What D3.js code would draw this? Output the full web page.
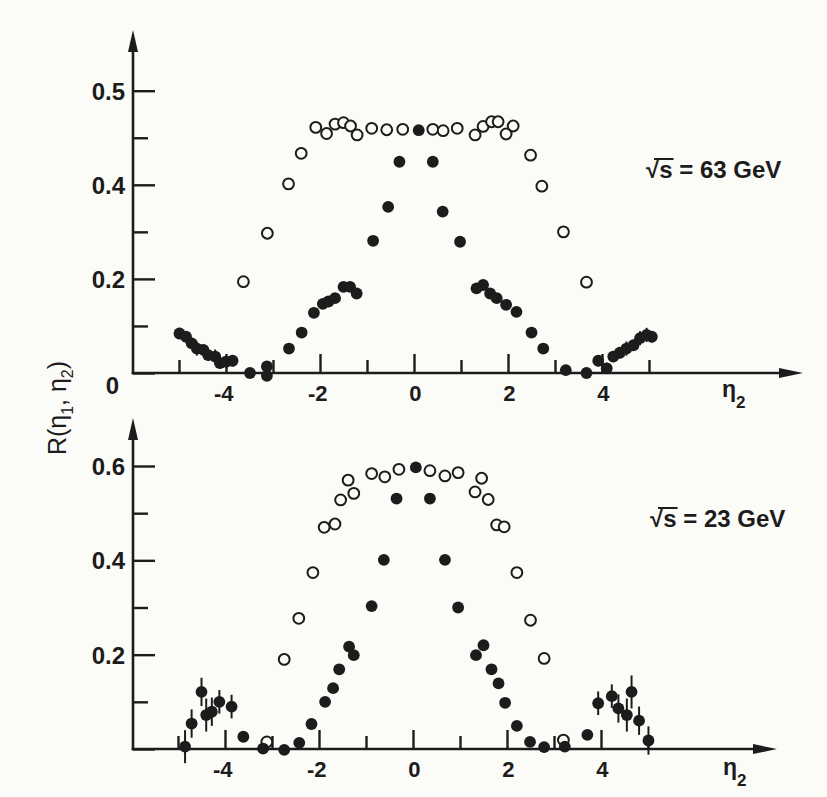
<!DOCTYPE html>
<html><head><meta charset="utf-8">
<script src="https://cdn.jsdelivr.net/npm/d3@7"></script>
<style>
html,body{margin:0;padding:0;background:#fbfbf8;}
svg{display:block;}
text{font-family:"Liberation Sans",Arial,sans-serif;font-weight:bold;fill:#1c1c1c;}
</style></head>
<body>
<script>
// ---------- DATA ----------
// sqrt(s) = 63 GeV panel
const eta63Open = [-3.63,-3.12,-2.67,-2.40,-2.09,-1.86,-1.68,-1.50,-1.35,-1.21,-0.90,-0.58,-0.24,0.40,0.62,0.92,1.30,1.47,1.65,1.79,1.96,2.11,2.48,2.72,3.18,3.67];
const r63Open   = [0.194,0.297,0.402,0.467,0.522,0.509,0.529,0.532,0.525,0.506,0.520,0.517,0.518,0.518,0.515,0.520,0.506,0.524,0.534,0.534,0.508,0.525,0.463,0.397,0.300,0.193];
const eta63Full = [-4.99,-4.85,-4.73,-4.62,-4.48,-4.38,-4.23,-4.13,-4.00,-3.86,-3.49,-3.13,-3.13,-2.66,-2.39,-2.13,-1.94,-1.82,-1.68,-1.50,-1.36,-1.22,-0.87,-0.55,-0.31,0.10,0.40,0.61,0.98,1.33,1.47,1.62,1.76,1.96,2.18,2.50,2.75,3.23,3.67,3.92,4.10,4.24,4.38,4.52,4.67,4.81,4.95,5.06];
const r63Full   = [0.084,0.077,0.063,0.052,0.049,0.038,0.035,0.021,0.024,0.026,0.000,0.014,-0.006,0.052,0.086,0.128,0.147,0.152,0.159,0.183,0.183,0.169,0.281,0.353,0.449,0.516,0.449,0.343,0.279,0.180,0.187,0.169,0.159,0.145,0.130,0.086,0.052,0.006,0.000,0.026,0.010,0.035,0.043,0.052,0.059,0.074,0.081,0.077];
const err63Full = [0.012,0.012,0.012,0.015,0.012,0.012,0.015,0.012,0.012,0.012,0,0,0,0,0,0,0,0,0,0,0,0,0,0,0,0,0,0,0,0,0,0,0,0,0,0,0,0,0,0.012,0.012,0.012,0.012,0.015,0.012,0.015,0.015,0.012];

// sqrt(s) = 23 GeV panel
const eta23Open = [-3.11,-2.74,-2.43,-2.13,-1.89,-1.66,-1.54,-1.38,-1.26,-0.88,-0.60,-0.30,0.36,0.68,0.96,1.32,1.46,1.60,1.78,1.94,2.21,2.50,2.79,3.20];
const r23Open   = [0.015,0.190,0.277,0.374,0.470,0.477,0.528,0.570,0.542,0.584,0.577,0.593,0.590,0.579,0.586,0.545,0.574,0.529,0.475,0.471,0.374,0.273,0.192,0.019];
const eta23Full = [-4.85,-4.71,-4.50,-4.40,-4.28,-4.12,-3.86,-3.61,-3.19,-2.74,-2.42,-2.16,-1.87,-1.70,-1.57,-1.36,-1.26,-0.88,-0.62,-0.35,0.06,0.36,0.68,0.96,1.34,1.50,1.67,1.82,1.96,2.21,2.49,2.79,3.23,3.71,3.94,4.23,4.37,4.55,4.65,4.81,5.01];
const r23Full   = [0.005,0.054,0.121,0.072,0.079,0.100,0.090,0.026,0.001,-0.002,0.013,0.053,0.100,0.129,0.169,0.217,0.199,0.303,0.401,0.531,0.597,0.531,0.401,0.300,0.199,0.220,0.169,0.139,0.098,0.049,0.015,0.004,0.005,0.030,0.097,0.112,0.086,0.072,0.121,0.060,0.018];
const err23Full = [0.035,0.030,0.030,0.035,0.030,0.025,0.025,0,0,0,0,0,0,0,0,0,0,0,0,0,0,0,0,0,0,0,0,0,0,0,0,0,0,0,0.025,0.025,0.030,0.035,0.035,0.030,0.030];

// ticks
const yMinorTicks = [0.1,0.3,0.5];
const yMajorTicks = [0,0.2,0.4,0.6];
const yLabels63 = ["0","0.2","0.4","0.5"];
const yMajorTicks23 = [0,0.2,0.4,0.6];
const yLabels23 = ["","0.2","0.4","0.6"];
const xMinorTicks = [-5,-3,-1,1,3,5];
const xMajorTicks = [-4,-2,0,2,4];
const xLabels = ["-4","-2","0","2","4"];
const energyLabels = ["63","23"];

// ---------- DRAWING ----------
const W = 827, H = 797, INK = "#1c1c1c";
const svg = d3.select("body").append("svg").attr("width", W).attr("height", H);
svg.append("rect").attr("width", W).attr("height", H).attr("fill", "#fbfbf8");

const panels = [
  {eo: eta63Open, ro: r63Open, ef: eta63Full, rf: r63Full, er: err63Full,
   xr: [179, 649], yr: [373, 90.7], axX: 133, yTip: 30, xTip: 803,
   yMaj: yMajorTicks, yLab: yLabels63, energy: energyLabels[0], eLab: [646, 178], etaLab: [722, 397]},
  {eo: eta23Open, ro: r23Open, ef: eta23Full, rf: r23Full, er: err23Full,
   xr: [178, 648], yr: [749, 466], axX: 133, yTip: 418, xTip: 777,
   yMaj: yMajorTicks23, yLab: yLabels23, energy: energyLabels[1], eLab: [650, 527], etaLab: [723, 775]}
];

panels.forEach(p => {
  const x = d3.scaleLinear().domain([-5, 5]).range(p.xr);
  const y = d3.scaleLinear().domain([0, 0.6]).range(p.yr);
  const g = svg.append("g");
  const y0 = y(0);

  const yMinor = g.append("g").attr("transform", `translate(${p.axX},0)`)
    .call(d3.axisLeft(y).tickValues(yMinorTicks).tickSize(-15).tickFormat(""));
  const yMajor = g.append("g").attr("transform", `translate(${p.axX},0)`)
    .call(d3.axisLeft(y).tickValues(p.yMaj).tickSize(-22).tickPadding(8)
      .tickFormat((d, i) => p.yLab[i]));
  const xMinor = g.append("g").attr("transform", `translate(0,${y0})`)
    .call(d3.axisBottom(x).tickValues(xMinorTicks).tickSize(-13).tickFormat(""));
  const xMajor = g.append("g").attr("transform", `translate(0,${y0})`)
    .call(d3.axisBottom(x).tickValues(xMajorTicks).tickSize(-19).tickPadding(12)
      .tickFormat((d, i) => xLabels[i]));

  [yMinor, yMajor, xMinor, xMajor].forEach(a => {
    a.select(".domain").remove();
    a.selectAll(".tick line").attr("stroke", INK).attr("stroke-width", 2.4);
    a.selectAll("text").attr("fill", INK).style("font-family", '"Liberation Sans",Arial,sans-serif')
      .style("font-weight", "bold");
  });
  yMajor.selectAll("text").style("font-size", "24px").attr("dy", "0.36em");
  yMajor.selectAll(".tick").filter(d => d === 0).select("text").attr("x", -14).attr("dy", "0.85em");
  xMajor.selectAll("text").style("font-size", "22px").attr("text-anchor", "end").attr("x", 7);

  // axes lines with arrows
  g.append("line").attr("x1", p.axX).attr("x2", p.axX).attr("y1", y0 + 1.2).attr("y2", p.yTip + 10)
    .attr("stroke", INK).attr("stroke-width", 2.6);
  g.append("path").attr("d", `M${p.axX},${p.yTip} L${p.axX - 5},${p.yTip + 22} L${p.axX + 5},${p.yTip + 22} Z`).attr("fill", INK);
  g.append("line").attr("x1", p.axX - 1.3).attr("x2", p.xTip - 10).attr("y1", y0).attr("y2", y0)
    .attr("stroke", INK).attr("stroke-width", 2.6);
  g.append("path").attr("d", `M${p.xTip},${y0} L${p.xTip - 24},${y0 - 5} L${p.xTip - 24},${y0 + 5} Z`).attr("fill", INK);

  // open circles
  g.append("g").selectAll("circle").data(p.eo.map((e, i) => [e, p.ro[i]])).join("circle")
    .attr("cx", d => x(d[0])).attr("cy", d => y(d[1])).attr("r", 5.4)
    .attr("fill", "#fbfbf8").attr("stroke", INK).attr("stroke-width", 2);

  // error bars & full circles
  const full = p.ef.map((e, i) => [e, p.rf[i], p.er[i]]);
  g.append("g").selectAll("line").data(full.filter(d => d[2] > 0)).join("line")
    .attr("x1", d => x(d[0])).attr("x2", d => x(d[0]))
    .attr("y1", d => y(d[1] - d[2])).attr("y2", d => y(d[1] + d[2]))
    .attr("stroke", INK).attr("stroke-width", 2);
  g.append("g").selectAll("circle").data(full).join("circle")
    .attr("cx", d => x(d[0])).attr("cy", d => y(d[1])).attr("r", 5.9)
    .attr("fill", INK);

  // energy label: √s = xx GeV
  const t = g.append("text").attr("x", p.eLab[0]).attr("y", p.eLab[1]).style("font-size", "24px");
  t.append("tspan").text("√");
  t.append("tspan").text("s");
  t.append("tspan").text(` = ${p.energy} GeV`);
  const node = t.node();
  const sx1 = node.getEndPositionOfChar(1).x;
  const rx = node.getStartPositionOfChar(0).x;
  g.append("line").attr("x1", rx + 8).attr("x2", sx1 + 1).attr("y1", p.eLab[1] - 19).attr("y2", p.eLab[1] - 19)
    .attr("stroke", INK).attr("stroke-width", 2);

  // eta_2 label
  const et = g.append("text").attr("x", p.etaLab[0]).attr("y", p.etaLab[1]).style("font-size", "23px");
  et.append("tspan").text("η");
  et.append("tspan").text("2").attr("dy", 11).style("font-size", "17px");
});

// y axis title R(η1, η2)
const yt = svg.append("text").attr("transform", "translate(66,408) rotate(-90)")
  .attr("text-anchor", "middle").style("font-size", "25px").style("font-weight", "normal");
yt.append("tspan").text("R(η");
yt.append("tspan").text("1").attr("dy", 7).style("font-size", "16px");
yt.append("tspan").text(", η").attr("dy", -7);
yt.append("tspan").text("2").attr("dy", 7).style("font-size", "16px");
yt.append("tspan").text(")").attr("dy", -7);
</script>
</body></html>
